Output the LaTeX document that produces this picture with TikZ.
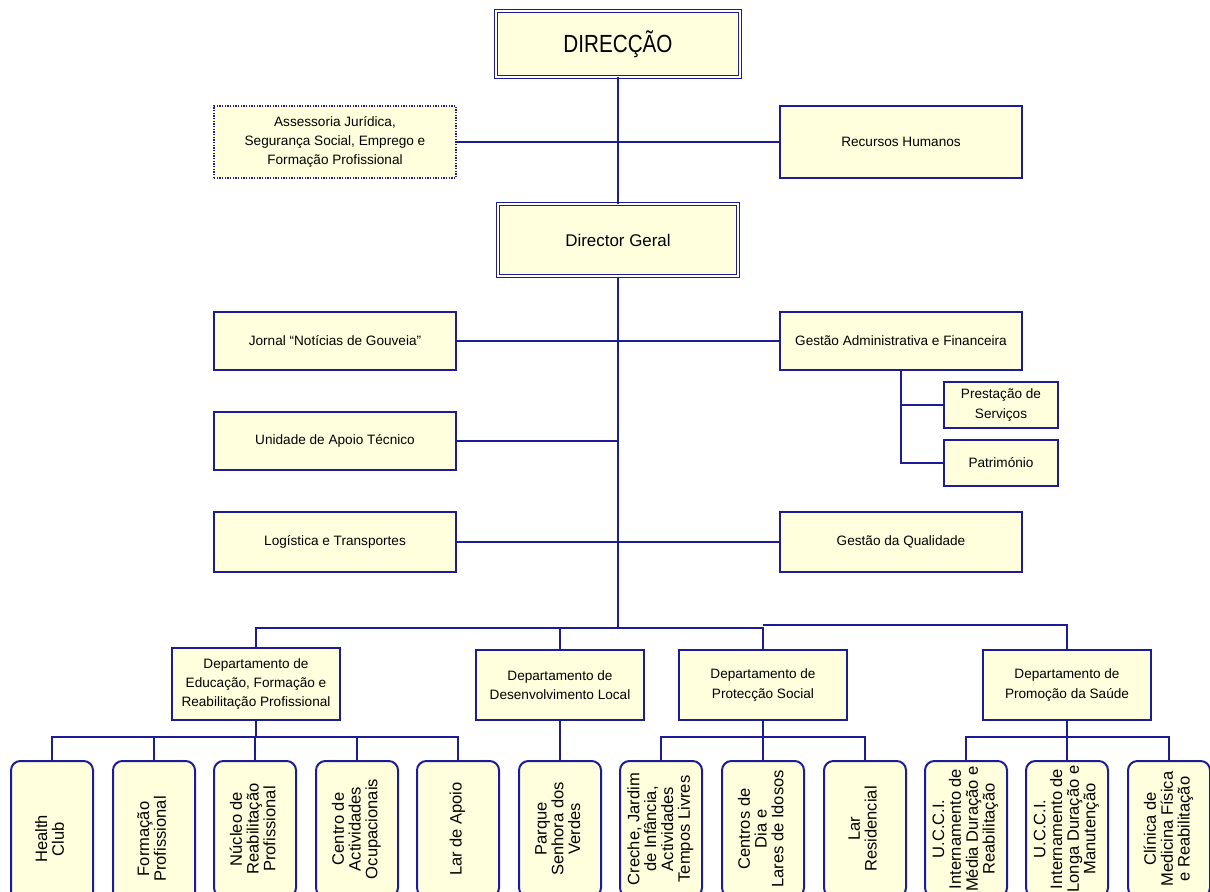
\documentclass[tikz,border=0pt]{standalone}
\usepackage{fontspec}
\setmainfont{Liberation Sans}
\usepackage{graphicx}
\usepackage{xcolor}
\usepackage{tikz}

\definecolor{orgblue}{RGB}{28,28,150}
\definecolor{orgfill}{RGB}{255,255,221}
\tikzset{
  orgbox/.style={draw=orgblue, fill=orgfill, line width=1.5pt, inner sep=0pt,
    align=center, font=\fontsize{10.2}{14.5}\selectfont},
  headbox/.style={orgbox, double=white, double distance=1.5pt, line width=0.75pt},
  leafbox/.style={draw=orgblue, fill=orgfill, line width=1.5pt, rounded corners=7pt,
    anchor=north, minimum width=61.5pt, minimum height=102pt, inner sep=0pt,
    font=\fontsize{12.4}{12}\selectfont},
  wire/.style={draw=orgblue, line width=1.5pt},
}
\newcommand{\vtext}[1]{\rotatebox{90}{\begin{tabular}{@{}c@{}}#1\end{tabular}}}

\begin{document}
\begin{tikzpicture}[x=0.75pt,y=-0.75pt]
\clip (0,0) rectangle (1210,892);

% top
\node[headbox, minimum width=183pt, minimum height=49.5pt, font=\fontsize{15.5}{18}\selectfont] (dir) at (618,44) {\scalebox{1}[1.2]{DIRECÇÃO}};
\node[orgbox, dash pattern=on 1pt off 1pt, line width=0.8pt, minimum width=181.5pt, minimum height=54pt] (ajur) at (335,142) {Assessoria Jurídica,\\Segurança Social, Emprego e\\Formação Profissional};
\node[orgbox, minimum width=181.5pt, minimum height=54pt] (rh) at (901,142) {Recursos Humanos};
\node[headbox, minimum width=180pt, minimum height=54pt, font=\fontsize{12.7}{15}\selectfont] (dg) at (618,240) {Director Geral};

% staff units
\node[orgbox, minimum width=181.5pt, minimum height=43.5pt] (jornal) at (335,341) {Jornal “Notícias de Gouveia”};
\node[orgbox, minimum width=181.5pt, minimum height=43.5pt] (gaf) at (901,341) {Gestão Administrativa e Financeira};
\node[orgbox, minimum width=85.5pt, minimum height=34.5pt] (ps) at (1001,405) {Prestação de\\Serviços};
\node[orgbox, minimum width=85.5pt, minimum height=34.5pt] (pat) at (1001,463) {Património};
\node[orgbox, minimum width=181.5pt, minimum height=43.5pt] (uat) at (335,441) {Unidade de Apoio Técnico};
\node[orgbox, minimum width=181.5pt, minimum height=45pt] (log) at (335,542) {Logística e Transportes};
\node[orgbox, minimum width=181.5pt, minimum height=45pt] (gq) at (901,542) {Gestão da Qualidade};

% departments
\node[orgbox, minimum width=126pt, minimum height=54pt] (dedu) at (256,684) {Departamento de\\Educação, Formação e\\Reabilitação Profissional};
\node[orgbox, minimum width=126pt, minimum height=52.5pt] (ddl) at (560,685) {Departamento de\\Desenvolvimento Local};
\node[orgbox, minimum width=126pt, minimum height=52.5pt] (dprot) at (763,685) {Departamento de\\Protecção Social};
\node[orgbox, minimum width=126pt, minimum height=52.5pt] (dsau) at (1067,685) {Departamento de\\Promoção da Saúde};

% services
\node[leafbox, minimum height=117pt] (hc) at (52,760) {\vtext{Health\\Club}};
\node[leafbox, minimum height=117pt] (fp) at (154,760) {\vtext{Formação\\Profissional}};
\node[leafbox] (nrp) at (255,760) {\vtext{Núcleo de\\Reabilitação\\Profissional}};
\node[leafbox] (cao) at (357,760) {\vtext{Centro de\\Actividades\\Ocupacionais}};
\node[leafbox] (la) at (458,760) {\vtext{Lar de Apoio}};
\node[leafbox] (psv) at (560,760) {\vtext{Parque\\Senhora dos\\Verdes}};
\node[leafbox] (cj) at (661,760) {\vtext{Creche, Jardim\\de Infância,\\Actividades\\Tempos Livres}};
\node[leafbox] (cd) at (763,760) {\vtext{Centros de\\Dia e\\Lares de Idosos}};
\node[leafbox] (lr) at (865,760) {\vtext{Lar\\Residencial}};
\node[leafbox] (ucm) at (966,760) {\vtext{U.C.C.I.\\Internamento de\\Média Duração e\\Reabilitação}};
\node[leafbox] (ucl) at (1067,760) {\vtext{U.C.C.I.\\Internamento de\\Longa Duração e\\Manutenção}};
\node[leafbox] (cmf) at (1169,760) {\vtext{Clínica de\\Medicina Física\\e Reabilitação}};

% wires
\coordinate (bus) at (618,628);
\coordinate (bus2) at (763,625);
\draw[wire] (dir.south) -- (dg.north);
\draw[wire] (ajur.east) -- (rh.west);
\draw[wire] (dg.south) -- (bus);
\draw[wire] (jornal.east) -- (gaf.west);
\draw[wire] (uat.east) -- (uat.east -| bus);
\draw[wire] (log.east) -- (gq.west);
\draw[wire] (gaf.south) |- (ps.west);
\draw[wire] (gaf.south) |- (pat.west);
\draw[wire] (dedu.north) |- (bus) -| (dprot.north);
\draw[wire] (ddl.north) -- (ddl.north |- bus);
\draw[wire] (bus2) -| (dsau.north);
\foreach \c in {hc,fp,nrp,cao,la}
  \draw[wire] (\c.north) -- ++(0,-23) -| (dedu.south);
\draw[wire] (ddl.south) -- (psv.north);
\foreach \c in {cj,cd,lr}
  \draw[wire] (\c.north) -- ++(0,-23) -| (dprot.south);
\foreach \c in {ucm,ucl,cmf}
  \draw[wire] (\c.north) -- ++(0,-23) -| (dsau.south);
\end{tikzpicture}
\end{document}
